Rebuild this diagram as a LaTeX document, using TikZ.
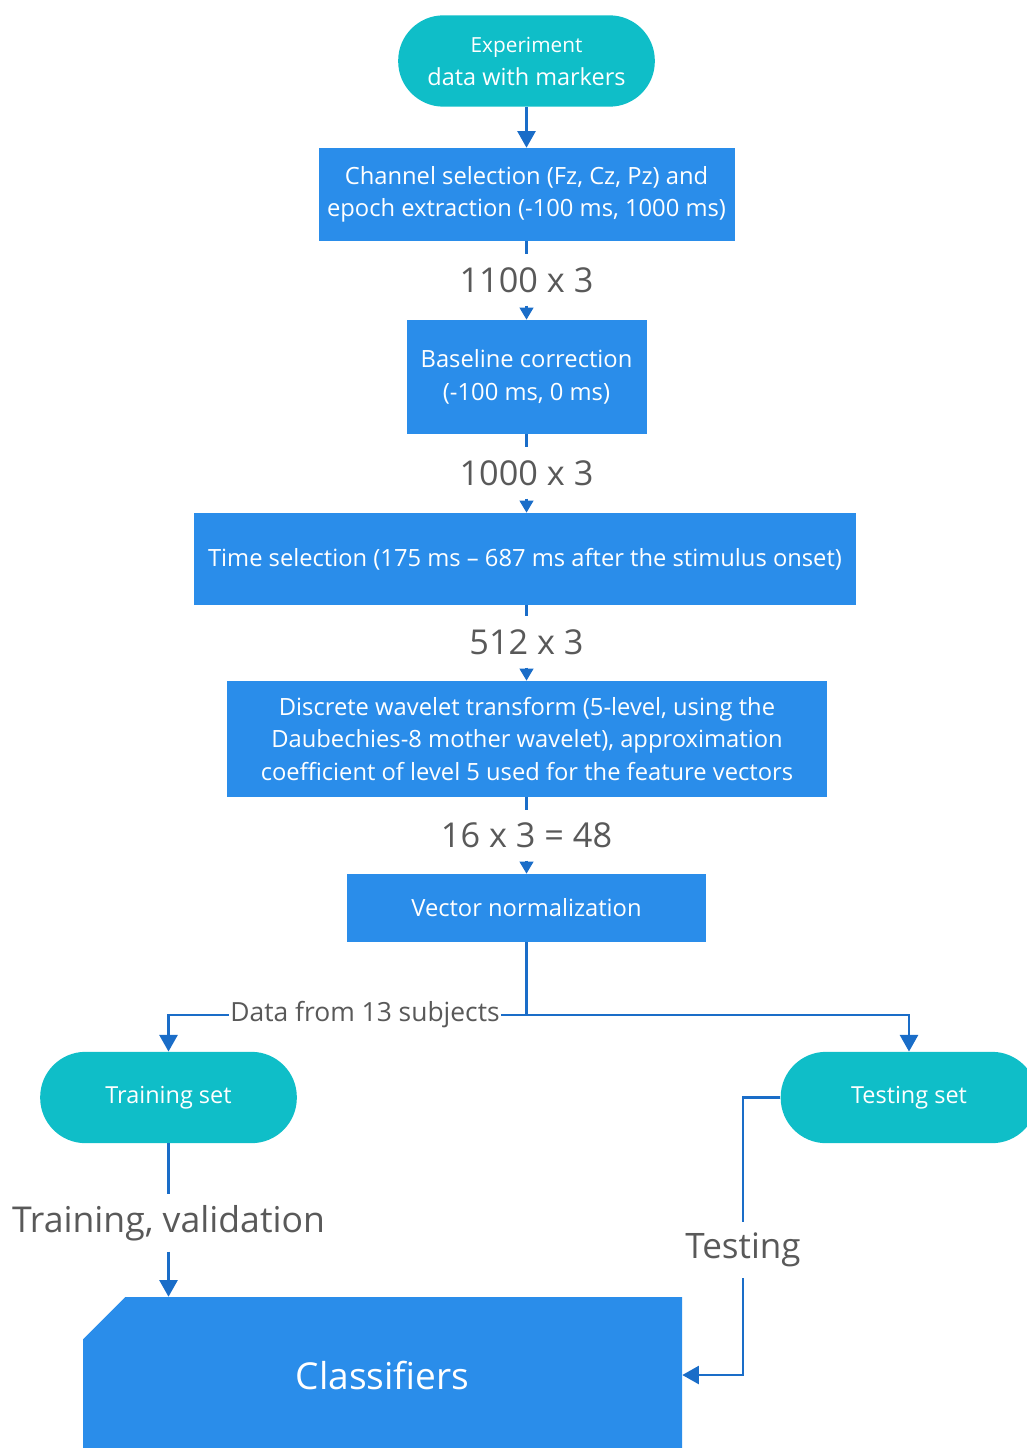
\documentclass[tikz,border=0pt]{standalone}
\usepackage{fontspec}
\setmainfont{Open Sans}
\usetikzlibrary{arrows.meta,shapes.misc,calc}
\definecolor{tealc}{HTML}{0FBEC8}
\definecolor{boxc}{HTML}{2A8DEA}
\definecolor{linec}{HTML}{1A6DC8}
\definecolor{labc}{HTML}{595959}
\begin{document}
\begin{tikzpicture}[x=0.75pt,y=-0.75pt,
 box/.style={rectangle, fill=boxc, text=white, align=center, inner sep=0pt, font=\fontsize{17.8pt}{24.5pt}\selectfont},
 term/.style={rectangle, rounded corners=34pt, fill=tealc, text=white, align=center, inner sep=0pt, minimum width=192.5pt, minimum height=68.5pt, font=\fontsize{17.6pt}{24.75pt}\selectfont},
 lab/.style={text=labc, inner xsep=2pt, inner ysep=9.5pt, font=\fontsize{25.7pt}{30pt}\selectfont},
 conn/.style={draw=linec, line width=2pt},
 arr/.style={conn, -{Triangle[width=13.5pt,length=12.5pt]}},
 sarr/.style={conn, -{Triangle[width=10pt,length=9pt]}}
]
\useasboundingbox (0,0) rectangle (1027,1448);

\node[term] (exp) at (526.5,61) {{\fontsize{15.6pt}{24.75pt}\selectfont Experiment}\\data with markers};
\node[box, minimum width=312pt, minimum height=69.75pt] (chan) at (526.5,194.5) {Channel selection (Fz, Cz, Pz) and\\epoch extraction (-100 ms, 1000 ms)};
\node[lab] (l1) at (526.5,280) {1100 x 3};
\node[box, minimum width=180pt, minimum height=85.5pt] (base) at (526.5,377) {Baseline correction\\(-100 ms, 0 ms)};
\node[lab] (l2) at (526.5,473) {1000 x 3};
\node[box, minimum width=496.5pt, minimum height=69pt] (time) at (525,559) {Time selection (175 ms – 687 ms after the stimulus onset)};
\node[lab] (l3) at (526.5,642) {512 x 3};
\node[box, minimum width=450pt, minimum height=87pt] (dwt) at (527,739) {Discrete wavelet transform (5-level, using the\\Daubechies-8 mother wavelet), approximation\\coefficient of level 5 used for the feature vectors};
\node[lab] (l4) at (526.5,835) {16 x 3 = 48};
\node[box, minimum width=269.25pt, minimum height=51pt] (vn) at (526.5,908) {Vector normalization};
\coordinate (split) at (526.5,1015);
\node[term] (train) at (168.5,1097.5) {Training set};
\node[term] (test) at (909,1097.5) {Testing set};
\node[chamfered rectangle, chamfered rectangle corners=north west, chamfered rectangle xsep=21pt, chamfered rectangle ysep=21pt, fill=boxc, text=white, minimum width=449.25pt, minimum height=117pt, inner sep=0pt, font=\fontsize{27.8pt}{32pt}\selectfont] (cls) at (382.5,1375) {Classifiers};
\node[lab, inner ysep=8pt, font=\fontsize{26.7pt}{30pt}\selectfont] (tv) at (168.5,1223) {Training, validation};
\coordinate (tbend) at (743,1097.5);
\node[lab, inner ysep=8pt, font=\fontsize{26.3pt}{30pt}\selectfont] (tl) at (743,1250) {Testing};

\draw[arr] (exp) -- (chan);
\draw[conn] (chan) -- (l1);
\draw[sarr] (l1) -- (base);
\draw[conn] (base) -- (l2);
\draw[sarr] (l2) -- (l2 |- time.north);
\draw[conn] (l2 |- time.south) -- (l3);
\draw[sarr] (l3) -- (dwt.north -| l3);
\draw[conn] (dwt.south -| l4) -- (l4);
\draw[sarr] (l4) -- (vn);
\draw[conn] (vn) -- (split);
\draw[arr] (split) -| (train);
\draw[arr] (split) -| (test);
\node[fill=white, text=labc, inner xsep=1pt, inner ysep=0pt, font=\fontsize{19.8pt}{24pt}\selectfont] (data) at (365,1015) {Data from 13 subjects};
\draw[conn] (train) -- (tv);
\draw[arr] (tv) -- (tv |- cls.north);
\draw[conn] (test.west) -- (tbend) -- (tl);
\draw[arr] (tl) |- (cls.east);
\end{tikzpicture}
\end{document}
